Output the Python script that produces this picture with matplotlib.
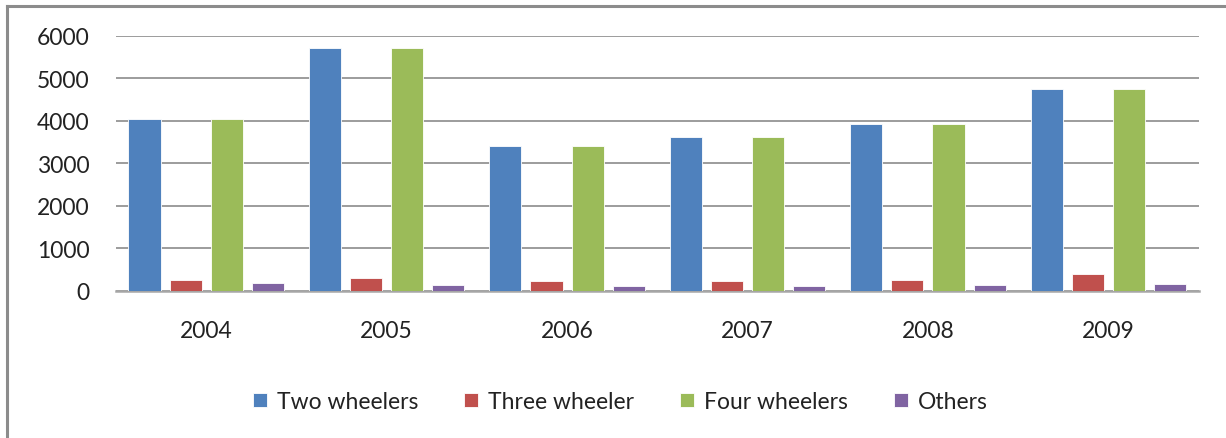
import numpy as np
import matplotlib
matplotlib.use("Agg")
import matplotlib.pyplot as plt
from matplotlib.lines import Line2D

plt.rcParams['font.family'] = ['Lato', 'DejaVu Sans']

years = ["2004", "2005", "2006", "2007", "2008", "2009"]
two_wheelers = [4040, 5710, 3400, 3620, 3920, 4740]
three_wheeler = [255, 295, 235, 235, 255, 390]
four_wheelers = [4040, 5710, 3400, 3620, 3920, 4740]
others = [195, 140, 110, 110, 140, 170]

series = [("Two wheelers", two_wheelers, "#4F81BD"),
          ("Three wheeler", three_wheeler, "#C0504D"),
          ("Four wheelers", four_wheelers, "#9BBB59"),
          ("Others", others, "#8064A2")]

fig = plt.figure(figsize=(12.26, 4.39), dpi=100)
ax = fig.add_axes([0.0946, 0.335, 0.883, 0.581])

x = np.arange(len(years))
w = 0.178
step = 0.228
for i, (name, vals, col) in enumerate(series):
    ax.bar(x + (i - 1.5) * step, vals, width=w, color=col, label=name,
           edgecolor="white", linewidth=0.6, zorder=3)

ax.set_xlim(-0.5, len(years) - 0.5)
ax.set_ylim(0, 6000)
ax.set_yticks(range(0, 6001, 1000))
ax.set_xticks(x)
ax.set_xticklabels(years)
ax.grid(axis="y", color="#949494", linewidth=1.3, zorder=0)
for s in ["top", "right", "left"]:
    ax.spines[s].set_visible(False)
ax.spines["bottom"].set_color("#a6a6a6")
ax.spines["bottom"].set_linewidth(1.8)
ax.tick_params(axis="both", length=0, labelsize=16.5, colors="#222222")
ax.tick_params(axis="x", pad=21)
ax.tick_params(axis="y", pad=19)

fig.legend(loc="center", bbox_to_anchor=(0.506, 0.083), ncol=4, frameon=False,
           fontsize=16.5, handlelength=0.6, handleheight=0.6, handletextpad=0.45,
           columnspacing=2.0, labelcolor="#222222")

# outer border (top and left only visible)
fig.add_artist(Line2D([7 / 1226, 7 / 1226], [0, 1 - 7 / 439], color="#8c8c8c", lw=2.2))
fig.add_artist(Line2D([7 / 1226, 1], [1 - 7 / 439, 1 - 7 / 439], color="#8c8c8c", lw=2.2))

fig.savefig("out.png", dpi=100)
